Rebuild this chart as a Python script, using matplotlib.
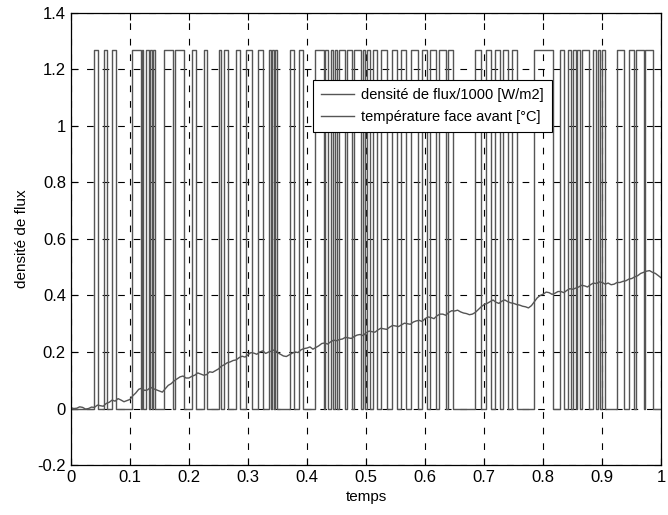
import numpy as np
import matplotlib
matplotlib.use("Agg")
import matplotlib.pyplot as plt

# flux square wave: (rise, fall) times, high level
high_level = 1.27
rise_t = [0.040, 0.056, 0.070, 0.104, 0.121, 0.128, 0.134, 0.139, 0.158, 0.176,
          0.206, 0.225, 0.251, 0.259, 0.280, 0.297, 0.317, 0.335, 0.341, 0.346,
          0.372, 0.387, 0.413, 0.430, 0.440, 0.447, 0.454, 0.468, 0.480, 0.494,
          0.501, 0.512, 0.526, 0.544, 0.559, 0.576, 0.594, 0.609, 0.624, 0.638,
          0.685, 0.703, 0.718, 0.732, 0.747, 0.784, 0.828, 0.842, 0.850, 0.858,
          0.866, 0.884, 0.893, 0.900, 0.925, 0.945, 0.957, 0.973]
fall_t = [0.046, 0.062, 0.076, 0.119, 0.123, 0.132, 0.137, 0.143, 0.173, 0.191,
          0.212, 0.231, 0.254, 0.267, 0.286, 0.306, 0.326, 0.339, 0.344, 0.349,
          0.378, 0.393, 0.428, 0.436, 0.444, 0.451, 0.465, 0.476, 0.491, 0.498,
          0.506, 0.518, 0.535, 0.553, 0.568, 0.588, 0.603, 0.618, 0.635, 0.647,
          0.694, 0.712, 0.726, 0.741, 0.756, 0.816, 0.836, 0.847, 0.855, 0.863,
          0.878, 0.889, 0.897, 0.904, 0.936, 0.954, 0.970, 0.986]

# front face temperature, every 0.005
temp_t = np.round(np.arange(0, 1.0001, 0.005), 3)
temp_v = [0.003, 0.000, 0.001, 0.006, 0.004, -0.002, 0.000, 0.005, 0.004, 0.012,
          0.010, 0.008, 0.018, 0.022, 0.030, 0.026, 0.035, 0.030, 0.024, 0.028,
          0.032, 0.045, 0.055, 0.068, 0.072, 0.064, 0.066, 0.075, 0.070, 0.066,
          0.062, 0.058, 0.070, 0.082, 0.088, 0.098, 0.105, 0.112, 0.115, 0.108,
          0.108, 0.114, 0.118, 0.126, 0.122, 0.118, 0.120, 0.130, 0.128, 0.134,
          0.140, 0.150, 0.155, 0.162, 0.165, 0.170, 0.172, 0.180, 0.185, 0.182,
          0.190, 0.198, 0.196, 0.192, 0.200, 0.204, 0.195, 0.200, 0.203, 0.208,
          0.198, 0.192, 0.186, 0.184, 0.190, 0.196, 0.200, 0.198, 0.208, 0.212,
          0.214, 0.218, 0.210, 0.216, 0.222, 0.230, 0.232, 0.228, 0.236, 0.242,
          0.240, 0.244, 0.246, 0.252, 0.250, 0.248, 0.255, 0.260, 0.262, 0.258,
          0.268, 0.274, 0.272, 0.270, 0.278, 0.284, 0.282, 0.280, 0.288, 0.294,
          0.292, 0.290, 0.296, 0.302, 0.300, 0.298, 0.306, 0.310, 0.312, 0.308,
          0.318, 0.324, 0.322, 0.318, 0.328, 0.334, 0.334, 0.330, 0.340, 0.346,
          0.345, 0.348, 0.342, 0.338, 0.336, 0.332, 0.334, 0.340, 0.350, 0.360,
          0.368, 0.372, 0.378, 0.384, 0.376, 0.372, 0.380, 0.384, 0.378, 0.374,
          0.372, 0.368, 0.366, 0.362, 0.360, 0.356, 0.364, 0.378, 0.392, 0.400,
          0.405, 0.412, 0.410, 0.404, 0.408, 0.414, 0.414, 0.410, 0.418, 0.424,
          0.422, 0.426, 0.430, 0.436, 0.434, 0.430, 0.438, 0.444, 0.442, 0.448,
          0.446, 0.440, 0.444, 0.438, 0.440, 0.446, 0.446, 0.450, 0.452, 0.458,
          0.460, 0.466, 0.470, 0.478, 0.482, 0.486, 0.488, 0.482, 0.478, 0.470,
          0.462]

# build step signal
wave_x = [0.0]
wave_y = [0.0]
for r, f in zip(rise_t, fall_t):
    wave_x += [r, r, f, f]
    wave_y += [0.0, high_level, high_level, 0.0]
wave_x.append(1.0)
wave_y.append(0.0)

plt.rcParams['font.family'] = ['Liberation Sans', 'DejaVu Sans']
fig = plt.figure(figsize=(6.68, 5.15), dpi=100)
ax = fig.add_axes([0.106, 0.097, 0.884, 0.878])

line_col = '#555555'
ax.plot(wave_x, wave_y, color=line_col, lw=1.0, label='densité de flux/1000 [W/m2]')
ax.plot(temp_t, temp_v, color=line_col, lw=1.0, label='température face avant [°C]')

ax.set_xlim(0, 1)
ax.set_ylim(-0.2, 1.4)
ax.set_xticks(np.arange(0, 1.01, 0.1))
ax.set_xticklabels(['0', '0.1', '0.2', '0.3', '0.4', '0.5', '0.6', '0.7', '0.8', '0.9', '1'])
ax.set_yticks(np.arange(-0.2, 1.41, 0.2))
ax.set_yticklabels(['-0.2', '0', '0.2', '0.4', '0.6', '0.8', '1', '1.2', '1.4'])
ax.tick_params(direction='in', top=True, right=True, labelsize=12, length=5, width=0.8)
ax.grid(True, color='black', linestyle=(0, (6, 8)), linewidth=0.8)
for s in ax.spines.values():
    s.set_linewidth(0.9)

ax.set_xlabel('temps', fontsize=11, labelpad=4)
ax.set_ylabel('densité de flux', fontsize=11, labelpad=6)

leg = ax.legend(loc='upper left', bbox_to_anchor=(0.41, 0.852), borderaxespad=0,
                fontsize=10.5, fancybox=False, framealpha=1, edgecolor='black',
                borderpad=0.55, handlelength=2.3, handletextpad=0.45,
                labelspacing=0.55)
leg.get_frame().set_linewidth(0.8)

fig.savefig('out.png', dpi=100)
